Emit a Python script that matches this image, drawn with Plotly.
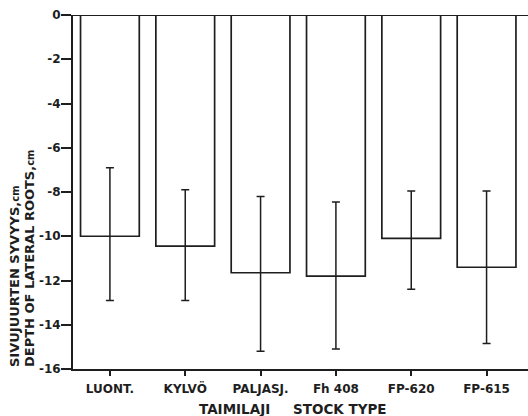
import plotly.graph_objects as go

# Stock types and depth of lateral roots (cm, negative = below surface)
stock_types = ["LUONT.", "KYLVÖ", "PALJASJ.", "Fh 408", "FP-620", "FP-615"]
mean_depth = [-10.0, -10.45, -11.65, -11.8, -10.1, -11.4]
range_top = [-6.9, -7.9, -8.2, -8.45, -7.95, -7.95]
range_bottom = [-12.9, -12.9, -15.2, -15.1, -12.4, -14.85]

y_tick_vals = [0, -2, -4, -6, -8, -10, -12, -14, -16]
y_tick_text = ["0", "-2", "-4", "-6", "-8", "-10", "-12", "-14", "-16"]

INK = "#1e1e1e"
FONT = "DejaVu Sans"

err_plus = [t - m for t, m in zip(range_top, mean_depth)]
err_minus = [m - b for m, b in zip(mean_depth, range_bottom)]
x_idx = list(range(len(stock_types)))

fig = go.Figure()
fig.add_trace(go.Bar(
    x=x_idx,
    y=mean_depth,
    width=0.78,
    marker=dict(color="white", line=dict(color=INK, width=1.7)),
    error_y=dict(type="data", symmetric=False, array=err_plus,
                 arrayminus=err_minus, color=INK, thickness=1.5, width=4),
    showlegend=False,
))

# surface line at depth 0
fig.add_shape(type="line", xref="paper", yref="y", x0=0, x1=1, y0=0, y1=0,
              line=dict(color=INK, width=1.8), layer="above")

title_font = dict(family=FONT, size=13, weight="bold", color=INK)
xtitle_font = dict(family=FONT, size=13.5, weight="bold", color=INK)

fig.update_layout(
    width=528, height=416,
    margin=dict(l=73, r=0, t=15, b=47),
    paper_bgcolor="white", plot_bgcolor="white",
    font=dict(family=FONT, color=INK),
    xaxis=dict(
        range=[-0.49, 5.55],
        tickmode="array", tickvals=x_idx, ticktext=stock_types,
        ticks="outside", ticklen=5, tickwidth=1.5, tickcolor=INK,
        ticklabelstandoff=3,
        tickfont=dict(family=FONT, size=12, weight="bold", color=INK),
        showline=True, linecolor=INK, linewidth=1.8,
        showgrid=False, zeroline=False,
    ),
    yaxis=dict(
        range=[-16, 0],
        tickmode="array", tickvals=y_tick_vals, ticktext=y_tick_text,
        ticks="outside", ticklen=10, tickwidth=1.5, tickcolor=INK,
        ticklabelstandoff=-2,
        tickfont=dict(family=FONT, size=12, weight="bold", color=INK),
        showline=True, linecolor=INK, linewidth=1.8,
        showgrid=False, zeroline=False,
    ),
    annotations=[
        dict(text="SIVUJUURTEN SYVYYS,<span style='font-size:10px'>cm</span>",
             xref="paper", yref="y", x=0, y=-16, xshift=-59,
             xanchor="center", yanchor="bottom", textangle=-90, showarrow=False,
             font=title_font),
        dict(text="DEPTH OF LATERAL ROOTS,<span style='font-size:10px'>cm</span>",
             xref="paper", yref="y", x=0, y=-16, xshift=-44,
             xanchor="center", yanchor="bottom", textangle=-90, showarrow=False,
             font=title_font),
        dict(text="TAIMILAJI",
             xref="paper", yref="paper", x=0.354, y=0, yshift=-40,
             xanchor="center", yanchor="middle", showarrow=False,
             font=xtitle_font),
        dict(text="STOCK TYPE",
             xref="paper", yref="paper", x=0.587, y=0, yshift=-40,
             xanchor="center", yanchor="middle", showarrow=False,
             font=xtitle_font),
    ],
)

fig.write_html("out.html")
